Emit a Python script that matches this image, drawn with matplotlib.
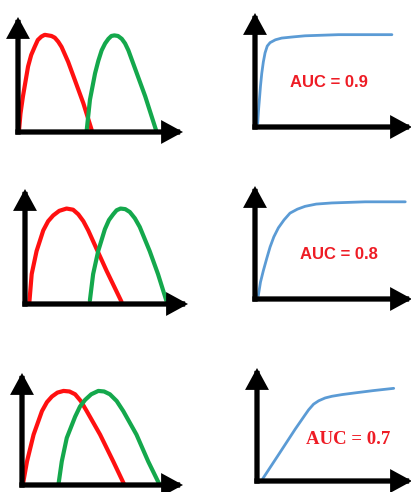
import matplotlib
matplotlib.use("Agg")
import matplotlib.pyplot as plt

# Score distributions (x along the axis, 0-10 = arrow tip; y 0-1 = arrow top)
red1_x = [0.06, 0.15, 0.30, 0.61, 0.80, 1.01, 1.20, 1.42, 1.62, 1.83, 2.03, 2.23,
          2.44, 2.64, 3.04, 3.45, 3.96, 4.46]
red1_y = [0.01, 0.16, 0.31, 0.57, 0.67, 0.74, 0.80, 0.83, 0.845, 0.84, 0.835, 0.82,
          0.785, 0.74, 0.61, 0.45, 0.25, 0.02]
green1_x = [4.16, 4.36, 4.67, 4.87, 5.07, 5.28, 5.48, 5.66, 5.84, 6.06, 6.29, 6.49,
            6.69, 7.20, 7.71, 8.38]
green1_y = [0.01, 0.28, 0.51, 0.62, 0.71, 0.77, 0.81, 0.835, 0.84, 0.835, 0.81, 0.77,
            0.71, 0.51, 0.31, 0.01]

red2_x = [0.27, 0.41, 0.71, 1.12, 1.42, 1.73, 2.10, 2.55, 2.95, 3.27, 3.58, 3.88,
          4.39, 5.00, 5.92]
red2_y = [0.02, 0.26, 0.46, 0.64, 0.72, 0.77, 0.81, 0.83, 0.82, 0.78, 0.72, 0.64,
          0.48, 0.29, 0.02]
green2_x = [3.98, 4.18, 4.49, 4.90, 5.15, 5.41, 5.62, 5.86, 6.15, 6.43, 6.74, 7.04,
            7.65, 8.16, 8.67]
green2_y = [0.03, 0.26, 0.46, 0.65, 0.73, 0.78, 0.815, 0.83, 0.825, 0.80, 0.745, 0.67,
            0.46, 0.26, 0.03]

red3_x = [0.06, 0.31, 0.72, 1.24, 1.55, 1.86, 2.20, 2.58, 2.95, 3.30, 3.65, 4.02,
          4.85, 5.67, 6.33]
red3_y = [0.01, 0.21, 0.45, 0.66, 0.74, 0.79, 0.825, 0.84, 0.835, 0.81, 0.75, 0.66,
          0.45, 0.21, 0.01]
green3_x = [2.27, 2.47, 2.78, 3.30, 3.60, 3.92, 4.30, 4.74, 5.10, 5.46, 5.88, 6.29,
            7.11, 7.84, 8.52]
green3_y = [0.01, 0.21, 0.42, 0.61, 0.70, 0.76, 0.81, 0.84, 0.835, 0.81, 0.75, 0.66,
            0.45, 0.21, 0.01]

# ROC curves
roc1_x = [0.17, 0.22, 0.28, 0.35, 0.43, 0.53, 0.64, 0.78, 0.96, 1.30, 1.70, 2.40,
          3.19, 5.32, 8.72]
roc1_y = [0.03, 0.14, 0.24, 0.36, 0.47, 0.57, 0.65, 0.71, 0.74, 0.765, 0.78, 0.79,
          0.80, 0.81, 0.81]
roc2_x = [0.21, 0.35, 0.53, 0.75, 0.96, 1.20, 1.49, 1.85, 2.23, 2.70, 3.19, 3.90,
          4.89, 7.02, 9.57]
roc2_y = [0.03, 0.15, 0.25, 0.36, 0.46, 0.55, 0.63, 0.70, 0.76, 0.795, 0.82, 0.84,
          0.85, 0.86, 0.86]
roc3_x = [0.37, 1.40, 2.47, 3.05, 3.33, 3.65, 3.98, 4.40, 4.84, 5.50, 6.34, 7.50, 8.82]
roc3_y = [0.02, 0.235, 0.46, 0.575, 0.63, 0.68, 0.71, 0.735, 0.75, 0.765, 0.78, 0.80, 0.82]

auc_labels = ["AUC = 0.9", "AUC = 0.8", "AUC = 0.7"]

RED = "#ff1010"
GREEN = "#14a84c"
BLUE = "#5b9bd5"
TXT = "#ee1c25"

W, H = 411, 492
fig = plt.figure(figsize=(W / 100, H / 100), dpi=100)


def panel(left, base, width, height):
    # pixel box -> figure fraction
    ax = fig.add_axes([left / W, (H - base) / H, width / W, height / H])
    ax.set_xlim(0, 10)
    ax.set_ylim(0, 1)
    ax.axis("off")
    style = "-|>,head_length=0.55,head_width=0.3"
    props = dict(arrowstyle=style, mutation_scale=18, lw=3.8, color="black",
                 shrinkA=0, shrinkB=0, capstyle="projecting", joinstyle="miter")
    ax.annotate("", xy=(1, 0), xytext=(0, 0), xycoords="axes fraction",
                arrowprops=props)
    ax.annotate("", xy=(0, 1), xytext=(0, 0), xycoords="axes fraction",
                arrowprops=props)
    return ax


# left column: class score distributions
for (l, b, w, h), rx, ry, gx, gy in [
    ((18, 132, 165, 115), red1_x, red1_y, green1_x, green1_y),
    ((25, 304, 163, 115), red2_x, red2_y, green2_x, green2_y),
    ((22, 485, 161, 112), red3_x, red3_y, green3_x, green3_y),
]:
    ax = panel(l, b, w, h)
    ax.plot(rx, ry, color=RED, lw=3, solid_capstyle="round",
            solid_joinstyle="round", clip_on=False)
    ax.plot(gx, gy, color=GREEN, lw=3, solid_capstyle="round",
            solid_joinstyle="round", clip_on=False)

# right column: ROC curves
rocs = [
    ((255, 127, 157, 114), roc1_x, roc1_y, (4.72, 0.39), "Liberation Sans", 12),
    ((255, 299, 157, 113), roc2_x, roc2_y, (5.32, 0.39), "Liberation Sans", 12),
    ((257, 481, 155, 113), roc3_x, roc3_y, (5.91, 0.37), "Liberation Serif", 13.5),
]
for i, ((l, b, w, h), x, y, pos, fam, fs) in enumerate(rocs):
    ax = panel(l, b, w, h)
    ax.plot(x, y, color=BLUE, lw=2, solid_capstyle="round",
            solid_joinstyle="round", clip_on=False)
    ax.text(pos[0], pos[1], auc_labels[i], color=TXT, fontsize=fs,
            fontweight="bold", family=fam, ha="center", va="center")

fig.savefig("out.png", dpi=100)
